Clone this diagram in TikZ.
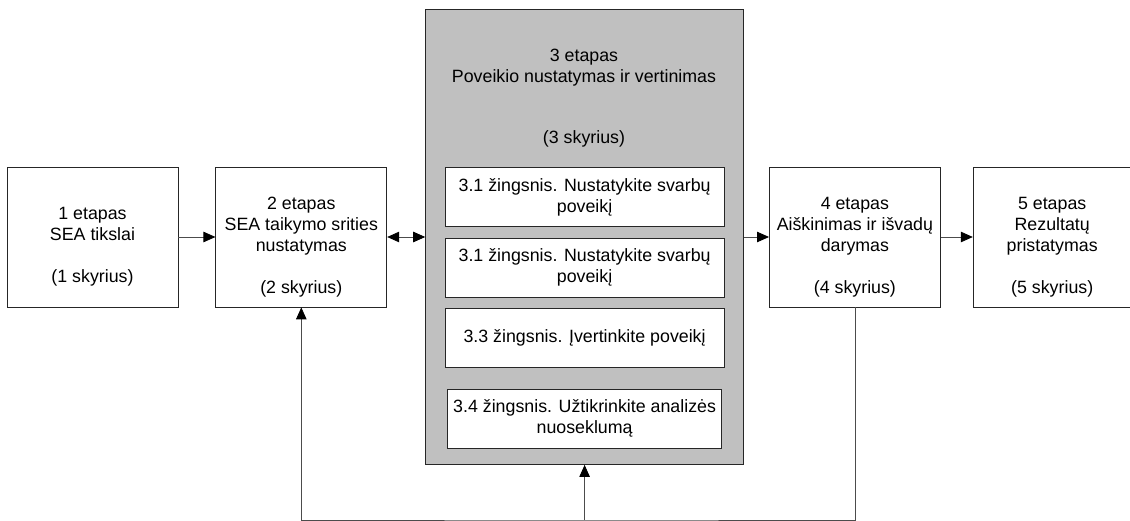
\documentclass[tikz,border=0pt]{standalone}
\usepackage{fontspec}
\setmainfont{Liberation Sans}
\usepackage{tikz}
\usetikzlibrary{arrows.meta, positioning}
\definecolor{phasegray}{RGB}{192,192,192}
\tikzset{stage/.style={rectangle, draw=black!85, line width=0.8pt, fill=white, minimum width=171pt, minimum height=140pt, inner sep=0pt}}
\tikzset{phase/.style={rectangle, draw=black!85, line width=0.8pt, fill=phasegray, minimum width=318pt, minimum height=455pt, inner sep=0pt}}
\tikzset{substep/.style={rectangle, draw=black!85, line width=0.8pt, fill=white, minimum width=279pt, minimum height=59pt, inner sep=0pt, align=center, font=\fontsize{17.8}{21}\selectfont}}
\tikzset{stagetext/.style={align=center, inner sep=0pt, font=\fontsize{17.8}{21}\selectfont}}
\tikzset{line/.style={draw=black!70, line width=0.8pt, ->}}

\begin{document}
\begin{tikzpicture}[x=1pt, y=-1pt, >={Triangle[length=12pt, width=10.5pt, color=black]}]
\useasboundingbox (0,0) rectangle (1130,521);
        % stages
        \node[stage]                        (s1) at (92.5,237) {};
        \node[stage, right=37pt of s1]      (s2) {};
        \node[phase, right=38pt of s2]      (s3) {};
        \node[stage, right=25pt of s3]      (s4) {};
        \node[stage, minimum width=158pt, right=32pt of s4] (s5) {};
        \node[stagetext] (t1) at ([yshift=-10pt]s1.center) {1 etapas\\SEA tikslai\\[21pt](1 skyrius)};
        \node[stagetext] (t2) at ([yshift=-10pt]s2.center) {2 etapas\\SEA taikymo srities\\nustatymas\\[21pt](2 skyrius)};
        \node[stagetext] (t3) at (584,98) {3 etapas\\Poveikio nustatymas ir vertinimas\\[40pt](3 skyrius)};
        \node[stagetext] (t4) at ([yshift=-10pt]s4.center) {4 etapas\\Aiškinimas ir išvadų\\darymas\\[21pt](4 skyrius)};
        \node[stagetext] (t5) at ([yshift=-10pt]s5.center) {5 etapas\\Rezultatų\\pristatymas\\[21pt](5 skyrius)};
        % steps inside stage 3
        \node[substep, below=158pt of s3.north] (z1) {3.1 žingsnis. Nustatykite svarbų\\poveikį};
        \node[substep, below=11pt of z1]        (z2) {3.1 žingsnis. Nustatykite svarbų\\poveikį};
        \node[substep, below=10pt of z2]        (z3) {3.3 žingsnis. Įvertinkite poveikį};
        \node[substep, minimum width=274pt, below=21pt of z3] (z4) {3.4 žingsnis. Užtikrinkite analizės\\nuoseklumą};
        % connectors
        \path[line] (s1) -- (s2);
        \path[line, <->] (s2) -- (s3);
        \path[line] (s3.east |- s4) -- (s4);
        \path[line] (s4) -- (s5);
        \coordinate (fb) at (s3.south |- 0,520);
        \path[line] (s4.south) |- (fb) -| (s2.south);
        \path[line] (fb) -- (s3.south);
\end{tikzpicture}
\end{document}
